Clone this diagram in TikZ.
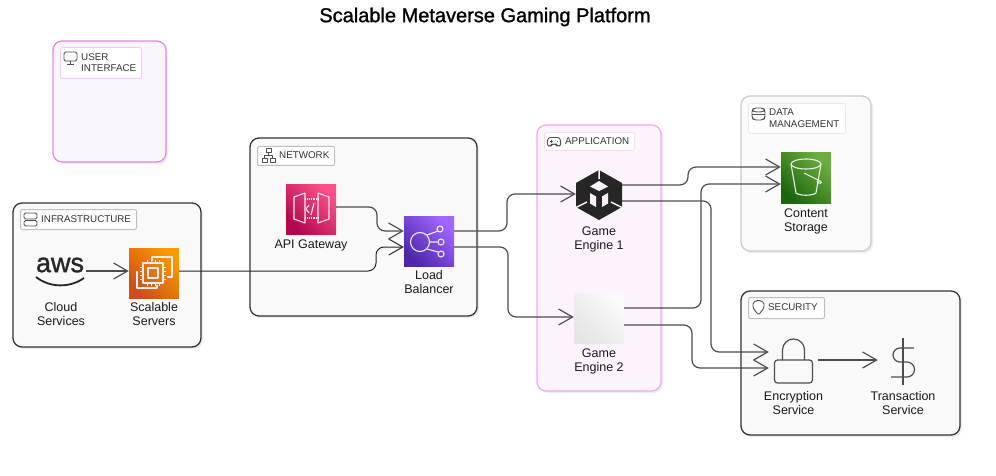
\documentclass[tikz,border=0pt]{standalone}
\usepackage{fontspec}
\setmainfont{Liberation Sans}
\newfontfamily\titlefont[FakeBold=1.2]{Liberation Sans}
\usetikzlibrary{positioning,shadows,arrows.meta}

\definecolor{pinkline}{HTML}{DE8CE0}
\definecolor{pinkfill}{HTML}{FBF5FD}
\definecolor{appline}{HTML}{F3A8F0}
\definecolor{appfill}{HTML}{FDF3FD}
\definecolor{darkline}{HTML}{333333}
\definecolor{greyfill}{HTML}{F9F9F9}
\definecolor{iconline}{HTML}{4D4D4D}
\definecolor{orangetop}{HTML}{FF9900}
\definecolor{orangelow}{HTML}{C8511B}
\definecolor{pinktop}{HTML}{FF4F8B}
\definecolor{pinklow}{HTML}{B0084D}
\definecolor{violettop}{HTML}{A166FF}
\definecolor{violetlow}{HTML}{4D27A8}
\definecolor{greentop}{HTML}{6CAE3E}
\definecolor{greenlow}{HTML}{1B660F}

\begin{document}
\begin{tikzpicture}[x=1pt, y=-1pt,
group_style/.style={rectangle, rounded corners=9pt, line width=1.3pt, inner sep=0pt, draw=darkline, fill=greyfill, drop shadow={opacity=0.15, shadow xshift=2pt, shadow yshift=-2pt}},
pink_group/.style={group_style, draw=pinkline, fill=pinkfill},
app_group/.style={group_style, draw=appline, fill=appfill},
pale_group/.style={group_style, draw=black!20, fill=white!98!black},
tag_style/.style={rectangle, rounded corners=2pt, line width=1pt, inner sep=0pt, anchor=north west, draw=black!25, fill=white},
tag_text/.style={anchor=west, inner sep=0pt, align=left, text=black!80, font=\fontsize{9.8}{11.5}\selectfont},
icon_style/.style={rectangle, inner sep=0pt, minimum size=50pt},
text_style/.style={inner sep=0pt, align=center, text=black!90, font=\fontsize{12.5}{14}\selectfont},
glyph_style/.style={draw=iconline, line width=0.9pt, line join=round},
aws_line/.style={draw=white!92!black, line width=1.1pt, line join=round},
edge_style/.style={draw=iconline, line width=1.2pt, rounded corners=8pt, -{Straight Barb[length=14pt,width=16pt]}}]

\useasboundingbox (0,0) rectangle (996,476);
\fill[white] (0,0) rectangle (996,476);

\node[inner sep=0pt, font=\fontsize{20}{22}\titlefont] (title) at (485,17) {Scalable Metaverse Gaming Platform};

% groups
\node[pink_group, minimum width=113pt, minimum height=121pt] (ui) at (109.5,101.5) {};
\node[group_style, minimum width=188pt, minimum height=144pt] (infra) at (107,275) {};
\node[group_style, minimum width=227pt, minimum height=178pt] (network) at (363.5,227) {};
\node[app_group, minimum width=124pt, minimum height=266pt] (app) at (599,258) {};
\node[pale_group, minimum width=130pt, minimum height=155pt] (data) at (806,173.5) {};
\node[group_style, minimum width=219pt, minimum height=144pt] (security) at (850.5,363) {};

% group tags
\node[tag_style, draw=appline!60, minimum width=81pt, minimum height=31pt] (ui_tag) at (60,47) {};
\node[tag_style, minimum width=116pt, minimum height=20pt] (infra_tag) at (20,209) {};
\node[tag_style, minimum width=77pt, minimum height=19pt] (network_tag) at (257,146) {};
\node[tag_style, draw=appline!40, minimum width=90pt, minimum height=18pt] (app_tag) at (544,132) {};
\node[tag_style, draw=black!8, minimum width=97pt, minimum height=30pt] (data_tag) at (748,103) {};
\node[tag_style, minimum width=76pt, minimum height=21pt] (security_tag) at (748,297) {};

\node[tag_text] (ui_name) at (81,62.5) {USER\\INTERFACE};
\node[tag_text] (infra_name) at (41,219) {INFRASTRUCTURE};
\node[tag_text] (network_name) at (279,155.5) {NETWORK};
\node[tag_text] (app_name) at (565,141) {APPLICATION};
\node[tag_text] (data_name) at (769,118) {DATA\\MANAGEMENT};
\node[tag_text] (security_name) at (768,307.5) {SECURITY};

% tag glyphs
\draw[glyph_style, rounded corners=1.5pt] (64,52) rectangle (77,61);
\draw[glyph_style] (70.5,61) -- (70.5,64) (67,64) -- (74,64);
\draw[glyph_style, rounded corners=1.5pt] (24,213) rectangle (37,219) (24,220.5) rectangle (37,226);
\draw[glyph_style] (262,158) rectangle (267,162) (270,158) rectangle (275,162) (266,148) rectangle (271,152);
\draw[glyph_style] (268.5,152) -- (268.5,155) (264.5,158) -- (264.5,155) -- (272.5,155) -- (272.5,158);
\draw[glyph_style, rounded corners=2.5pt] (547,146) -- (548,137.5) -- (560,137.5) -- (561,146) -- (557,146) -- (556,144) -- (552,144) -- (551,146) -- cycle;
\draw[glyph_style, line width=0.7pt] (551,140) -- (551,143) (549.5,141.5) -- (552.5,141.5) (557,141.5) -- (558,141.5);
\draw[glyph_style] (752,110) arc[start angle=180, end angle=360, x radius=6.5pt, y radius=2pt];
\draw[glyph_style, rounded corners=2pt] (752,110) -- (752,118) -- (754,120) -- (763,120) -- (765,118) -- (765,110) -- (763,108) -- (754,108) -- cycle;
\draw[glyph_style] (752,114) -- (765,114);
\draw[glyph_style, rounded corners=1.5pt] (758.5,300) -- (764,302.5) -- (764,308) -- (758.5,315) -- (753,308) -- (753,302.5) -- cycle;

% services
\node[icon_style] (aws) at (61,271) {};
\node[inner sep=0pt, text=black!85, font=\fontsize{27}{27}\titlefont] (aws_name) at (60,265) {aws};
\draw[line width=1.8pt, black!85] (36,277) .. controls (50,288) and (70,288) .. (84,278);
\node[icon_style, top color=orangetop, bottom color=orangelow, shading angle=-45] (servers) at (154,273) {};
\node[icon_style, top color=pinktop, bottom color=pinklow, shading angle=-45] (api) at (311,209) {};
\node[icon_style, top color=violettop, bottom color=violetlow, shading angle=-45] (balancer) at (429,241) {};
\node[icon_style, minimum width=46pt] (engine_one) at (599,195) {};
\node[icon_style, top color=white!98!black, bottom color=black!10, shading angle=-45] (engine_two) at (599,318) {};
\node[icon_style, top color=greentop, bottom color=greenlow, shading angle=-45] (storage) at (806,178) {};
\node[icon_style, minimum width=49pt] (lock) at (793.5,360) {};
\node[icon_style] (dollar) at (903,360) {};

\node[text_style, below=6pt of aws] (aws_text) {Cloud\\Services};
\node[text_style, below=4pt of servers] (servers_text) {Scalable\\Servers};
\node[text_style, below=5pt of api] (api_text) {API Gateway};
\node[text_style, below=4pt of balancer] (balancer_text) {Load\\Balancer};
\node[text_style, below=6pt of engine_one] (engine_one_text) {Game\\Engine 1};
\node[text_style, below=5pt of engine_two] (engine_two_text) {Game\\Engine 2};
\node[text_style, below=5pt of storage] (storage_text) {Content\\Storage};
\node[text_style, below=6pt of lock] (lock_text) {Encryption\\Service};
\node[text_style, below=6pt of dollar] (dollar_text) {Transaction\\Service};

% icon drawings
\begin{scope}[shift={(servers.center)}]
\draw[aws_line] (-2,-12) -- (-2,-16) -- (18,-16) -- (18,4) -- (13,4);
\draw[aws_line] (-17,-2) -- (-17,15) -- (3,15) -- (3,12);
\draw[aws_line] (-11,-10) rectangle (9,10);
\draw[aws_line] (-6,-5) rectangle (4,5);
\foreach \p in {-7,-3,1,5}{
\draw[aws_line, line width=0.7pt] (\p,-10) -- (\p,-13) (\p,10) -- (\p,13);
}
\foreach \p in {-6,-2,2,6}{
\draw[aws_line, line width=0.7pt] (-11,\p) -- (-14,\p) (9,\p) -- (12,\p);
}
\end{scope}

\begin{scope}[shift={(api.center)}]
\draw[aws_line] (-6,-16) -- (-17,-12) -- (-17,10) -- (-6,14) -- cycle;
\draw[aws_line] (7,-16) -- (18,-12) -- (18,10) -- (7,14) -- cycle;
\draw[aws_line, densely dotted] (-6,-10) -- (7,-10) (-6,9) -- (7,9);
\draw[aws_line] (-2,-4) -- (-5,0) -- (-2,4) (3,-6) -- (0,6);
\end{scope}

\begin{scope}[shift={(balancer.center)}]
\draw[aws_line] (-9,1) circle[radius=9.5pt];
\draw[aws_line] (11,-12) circle[radius=3pt] (12,1) circle[radius=3pt] (12,13) circle[radius=3pt];
\draw[aws_line] (-2,-6) -- (9,-10) (0.5,1) -- (9,1) (-2,8) -- (9,11);
\end{scope}

\begin{scope}[shift={(storage.center)}]
\draw[aws_line] (-15,-14) arc[start angle=180, end angle=360, x radius=15pt, y radius=5pt];
\draw[aws_line] (-15,-14) arc[start angle=180, end angle=0, x radius=15pt, y radius=5pt];
\draw[aws_line] (-15,-14) -- (-10,15) .. controls (-6,18) and (6,18) .. (10,15) -- (15,-14);
\draw[aws_line] (-2,-5) -- (14,3) .. controls (18,5) and (12,7) .. (11,3);
\end{scope}

\begin{scope}[shift={(engine_one.center)}]
\fill[black!85] (0,-25) -- (23,-12) -- (23,12) -- (0,25) -- (-23,12) -- (-23,-12) -- cycle;
\fill[appfill] (0,-14) -- (9,-8.5) -- (0,-4) -- (-9,-8.5) -- cycle;
\fill[appfill] (-9,-2) -- (-3,1.5) -- (-3,12) -- (-9,8.5) -- cycle;
\fill[appfill] (9,-2) -- (3,1.5) -- (3,12) -- (9,8.5) -- cycle;
\draw[appfill, line width=1.5pt] (0,-27) -- (0,-16) (-24,13) -- (-12,7) (24,13) -- (12,7);
\end{scope}

\begin{scope}[shift={(lock.center)}]
\draw[glyph_style, line width=1.2pt, rounded corners=3pt] (-19,0) rectangle (19,23);
\draw[glyph_style, line width=1.2pt] (-11,0) -- (-11,-10) arc[start angle=180, end angle=0, radius=11pt] -- (11,0);
\end{scope}

\begin{scope}[shift={(dollar.center)}]
\draw[glyph_style, line width=1.2pt] (0,-22) -- (0,25);
\draw[glyph_style, line width=1.2pt] (11,-12) -- (-3,-12) arc[start angle=90, end angle=270, radius=7pt] -- (4,2) arc[start angle=90, end angle=-90, radius=7.5pt] -- (-12,17);
\end{scope}

% connectors
\draw[edge_style] (aws.east) -- (servers.west|-aws.east);
\draw[edge_style, line width=1pt, draw=black!85] ([yshift=2pt]servers.east) -- (376,271) -- (376,247) -- ([yshift=-6pt]balancer.west);
\draw[edge_style] ([yshift=2pt]api.east) -- (377,207) -- (377,231) -- ([yshift=10pt]balancer.west);
\draw[edge_style] ([yshift=10pt]balancer.east) -- (507,231) -- (507,194) -- ([yshift=1pt]engine_one.west);
\draw[edge_style] ([yshift=-6pt]balancer.east) -- (508,247) -- (508,317) -- ([yshift=1pt]engine_two.west);
\draw[edge_style] ([yshift=10pt]engine_one.east) -- (688,185) -- (688,167) -- ([yshift=11pt]storage.west);
\draw[edge_style] ([yshift=10pt]engine_two.east) -- (701,308) -- (701,184) -- ([yshift=-6pt]storage.west);
\draw[edge_style] ([yshift=-6pt]engine_one.east) -- (711,201) -- (711,352) -- ([yshift=8pt]lock.west);
\draw[edge_style] ([yshift=-7pt]engine_two.east) -- (692,325) -- (692,368) -- ([yshift=-8pt]lock.west);
\draw[edge_style] (lock.east) -- (dollar.west);
\end{tikzpicture}
\end{document}
